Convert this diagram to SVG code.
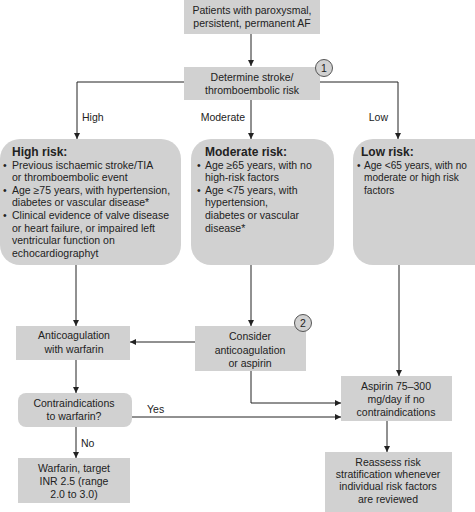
<svg xmlns="http://www.w3.org/2000/svg" width="475" height="512" viewBox="0 0 475 512">
<defs>
<marker id="ah" viewBox="0 0 8 8" refX="8" refY="4" markerWidth="6" markerHeight="6" markerUnits="userSpaceOnUse" orient="auto">
<path d="M0,0 L8,4 L0,8 z" fill="#222"/>
</marker>
<style>
.box{fill:#d1d1d1;stroke:none}
.t{font-family:"Liberation Sans",Arial,sans-serif;font-size:10.5px;fill:#222}
.c{text-anchor:middle}
.b{font-weight:bold;font-size:12px}
.sm{font-size:10.1px}
.ln{fill:none;stroke:#222;stroke-width:1}
.circ{fill:#d1d1d1;stroke:#555;stroke-width:1}
</style>
</defs>
<rect width="475" height="512" fill="#fff"/>
<g id="connectors">
<line class="ln" x1="251" y1="34" x2="251" y2="66" marker-end="url(#ah)"/>
<polyline class="ln" points="184,82 77,82 77,139" marker-end="url(#ah)"/>
<polyline class="ln" points="320,82 398,82 398,139" marker-end="url(#ah)"/>
<line class="ln" x1="251" y1="100" x2="251" y2="139" marker-end="url(#ah)"/>
<line class="ln" x1="76" y1="265" x2="76" y2="326" marker-end="url(#ah)"/>
<line class="ln" x1="251" y1="265" x2="251" y2="326" marker-end="url(#ah)"/>
<line class="ln" x1="399" y1="265" x2="399" y2="376" marker-end="url(#ah)"/>
<line class="ln" x1="195" y1="342" x2="130" y2="342" marker-end="url(#ah)"/>
<polyline class="ln" points="251,371 251,403 341,403" marker-end="url(#ah)"/>
<line class="ln" x1="76" y1="360" x2="76" y2="393" marker-end="url(#ah)"/>
<line class="ln" x1="132" y1="417" x2="341" y2="417" marker-end="url(#ah)"/>
<line class="ln" x1="76" y1="427" x2="76" y2="458" marker-end="url(#ah)"/>
<line class="ln" x1="387" y1="421" x2="387" y2="452" marker-end="url(#ah)"/>
<text class="t" x="82" y="121">High</text>
<text class="t" x="245" y="121" text-anchor="end">Moderate</text>
<text class="t" x="388" y="121" text-anchor="end">Low</text>
<text class="t" x="147" y="413">Yes</text>
<text class="t" x="81" y="447">No</text>
</g>
<g id="start">
<rect class="box" x="184" y="0" width="136" height="34"/>
<text class="t c" x="252" y="14">Patients with paroxysmal,</text>
<text class="t c" x="252" y="27">persistent, permanent AF</text>
</g>
<g id="determine">
<rect class="box" x="184" y="67" width="136" height="33"/>
<text class="t c" x="252" y="81">Determine stroke/</text>
<text class="t c" x="252" y="94">thromboembolic risk</text>
</g>
<g id="badge1">
<circle class="circ" cx="324" cy="68" r="8.5"/>
<text class="t c" x="324" y="72">1</text>
</g>
<g id="high">
<rect class="box" x="0" y="139" width="181" height="126" rx="20"/>
<text class="t b" x="12" y="156">High risk:</text>
<text class="t"><tspan x="3" y="169">•</tspan><tspan x="12" y="169">Previous ischaemic stroke/TIA</tspan><tspan x="12" y="181">or thromboembolic event</tspan><tspan x="3" y="194">•</tspan><tspan x="12" y="194">Age ≥75 years, with hypertension,</tspan><tspan x="12" y="206">diabetes or vascular disease*</tspan><tspan x="3" y="219">•</tspan><tspan x="12" y="219">Clinical evidence of valve disease</tspan><tspan x="12" y="232">or heart failure, or impaired left</tspan><tspan x="12" y="244">ventricular function on</tspan><tspan x="12" y="257">echocardiographyt</tspan></text>
</g>
<g id="moderate">
<rect class="box" x="191" y="139" width="143" height="126" rx="20"/>
<text class="t b" x="205" y="156">Moderate risk:</text>
<text class="t"><tspan x="197" y="169">•</tspan><tspan x="205" y="169">Age ≥65 years, with no</tspan><tspan x="205" y="181">high-risk factors</tspan><tspan x="197" y="194">•</tspan><tspan x="205" y="194">Age &lt;75 years, with</tspan><tspan x="205" y="206">hypertension,</tspan><tspan x="205" y="219">diabetes or vascular</tspan><tspan x="205" y="232">disease*</tspan></text>
</g>
<g id="low">
<rect class="box" x="353" y="139" width="140" height="126" rx="20"/>
<text class="t b" x="361" y="156">Low risk:</text>
<text class="t sm"><tspan x="357" y="169">•</tspan><tspan x="364" y="169">Age &lt;65 years, with no</tspan><tspan x="364" y="181">moderate or high risk</tspan><tspan x="364" y="194">factors</tspan></text>
</g>
<g id="anticoag">
<rect class="box" x="16" y="326" width="114" height="34"/>
<text class="t c" x="74" y="339">Anticoagulation</text>
<text class="t c" x="74" y="353">with warfarin</text>
</g>
<g id="consider">
<rect class="box" x="195" y="326" width="111" height="45"/>
<text class="t c" x="250" y="340">Consider</text>
<text class="t c" x="250" y="354">anticoagulation</text>
<text class="t c" x="250" y="367">or aspirin</text>
</g>
<g id="badge2">
<circle class="circ" cx="303" cy="323" r="8.5"/>
<text class="t c" x="303" y="327">2</text>
</g>
<g id="aspirin">
<rect class="box" x="341" y="376" width="111" height="45"/>
<text class="t c" x="396" y="390">Aspirin 75–300</text>
<text class="t c" x="396" y="403">mg/day if no</text>
<text class="t c" x="396" y="416">contraindications</text>
</g>
<g id="contra">
<rect class="box" x="18" y="393" width="114" height="34" rx="8"/>
<text class="t c" x="74" y="407">Contraindications</text>
<text class="t c" x="74" y="420">to warfarin?</text>
</g>
<g id="warfarin">
<rect class="box" x="18" y="458" width="112" height="45"/>
<text class="t c" x="74" y="472">Warfarin, target</text>
<text class="t c" x="74" y="485">INR 2.5 (range</text>
<text class="t c" x="74" y="498">2.0 to 3.0)</text>
</g>
<g id="reassess">
<rect class="box" x="325" y="452" width="127" height="60"/>
<text class="t c" x="388" y="466">Reassess risk</text>
<text class="t c" x="388" y="478">stratification whenever</text>
<text class="t c" x="388" y="490">individual risk factors</text>
<text class="t c" x="388" y="503">are reviewed</text>
</g>
</svg>
